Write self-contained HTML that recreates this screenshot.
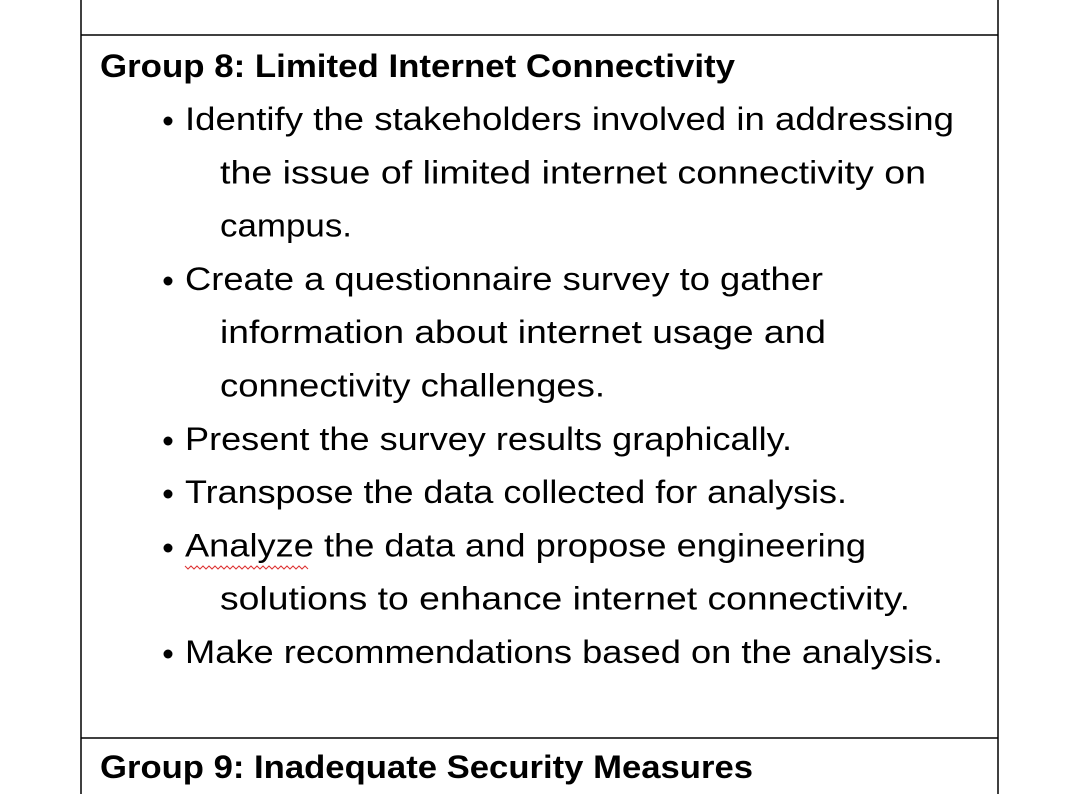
<!DOCTYPE html>
<html><head><meta charset="utf-8"><style>
html,body{margin:0;padding:0;background:#fff;width:1080px;height:794px;overflow:hidden}
svg text{font-family:"Liberation Sans",sans-serif;font-size:32px;fill:#000}
</style></head><body>
<svg width="1080" height="794" xmlns="http://www.w3.org/2000/svg">
<rect width="1080" height="794" fill="#fff"/>
<line x1="81" y1="0" x2="81" y2="794" stroke="#000" stroke-width="1.5"/>
<line x1="998" y1="0" x2="998" y2="794" stroke="#000" stroke-width="1.5"/>
<line x1="81" y1="35" x2="998" y2="35" stroke="#000" stroke-width="1.5"/>
<line x1="81" y1="738" x2="998" y2="738" stroke="#000" stroke-width="1.5"/>
<text x="100" y="77" font-weight="bold" textLength="635" lengthAdjust="spacingAndGlyphs">Group 8: Limited Internet Connectivity</text>
<g fill="#000">
<circle cx="168" cy="121" r="4.5"/>
<circle cx="168" cy="281" r="4.5"/>
<circle cx="168" cy="441" r="4.5"/>
<circle cx="168" cy="494" r="4.5"/>
<circle cx="168" cy="548" r="4.5"/>
<circle cx="168" cy="654" r="4.5"/>
</g>
<text x="185" y="130" textLength="769" lengthAdjust="spacingAndGlyphs">Identify the stakeholders involved in addressing</text>
<text x="220" y="183.3" textLength="706" lengthAdjust="spacingAndGlyphs">the issue of limited internet connectivity on</text>
<text x="220" y="236.6" textLength="132" lengthAdjust="spacingAndGlyphs">campus.</text>
<text x="185" y="290" textLength="638" lengthAdjust="spacingAndGlyphs">Create a questionnaire survey to gather</text>
<text x="220" y="343.2" textLength="606" lengthAdjust="spacingAndGlyphs">information about internet usage and</text>
<text x="220" y="396.5" textLength="385" lengthAdjust="spacingAndGlyphs">connectivity challenges.</text>
<text x="185" y="450" textLength="607" lengthAdjust="spacingAndGlyphs">Present the survey results graphically.</text>
<text x="185" y="503" textLength="662" lengthAdjust="spacingAndGlyphs">Transpose the data collected for analysis.</text>
<text x="185" y="556.4" textLength="681" lengthAdjust="spacingAndGlyphs">Analyze the data and propose engineering</text>
<text x="220" y="609.7" textLength="690" lengthAdjust="spacingAndGlyphs">solutions to enhance internet connectivity.</text>
<text x="185" y="663" textLength="758" lengthAdjust="spacingAndGlyphs">Make recommendations based on the analysis.</text>
<polyline fill="none" stroke="#d33" stroke-width="1" points="185,566 188,569 191,566 194,569 197,566 200,569 203,566 206,569 209,566 212,569 215,566 218,569 221,566 224,569 227,566 230,569 233,566 236,569 239,566 242,569 245,566 248,569 251,566 254,569 257,566 260,569 263,566 266,569 269,566 272,569 275,566 278,569 281,566 284,569 287,566 290,569 293,566 296,569 299,566 302,569 305,566 308,569"/>
<text x="100" y="778" font-weight="bold" textLength="653" lengthAdjust="spacingAndGlyphs">Group 9: Inadequate Security Measures</text>
</svg>
</body></html>
